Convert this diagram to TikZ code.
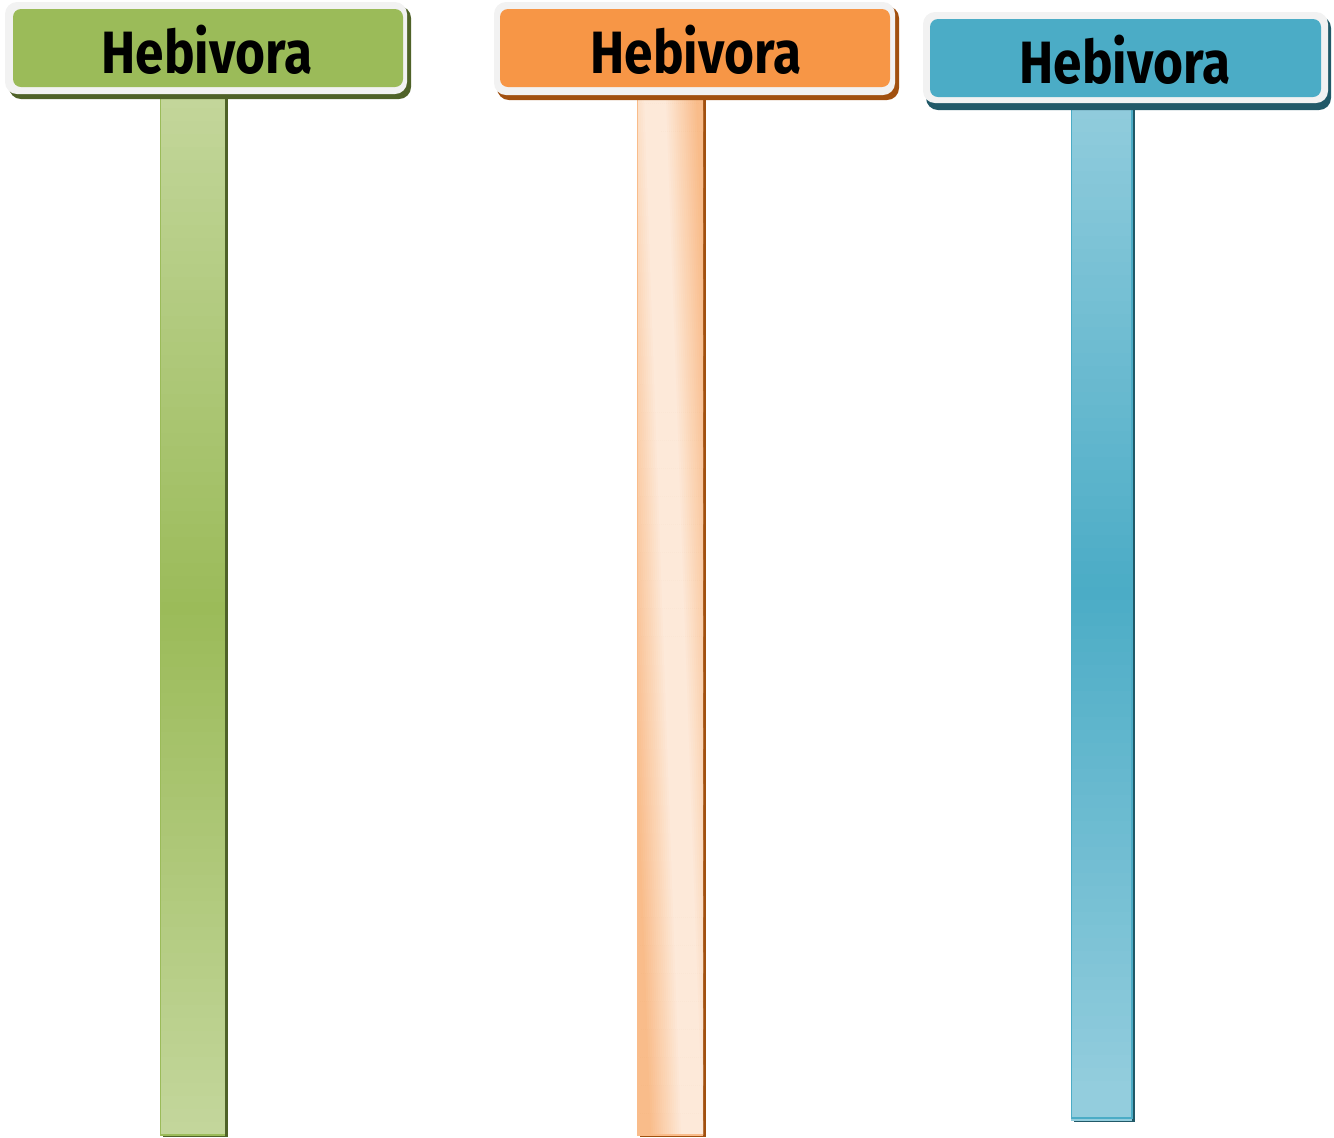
\documentclass[tikz,border=0pt]{standalone}
\usepackage{fontspec}
\setmainfont{Fira Sans}
\definecolor{grnmain}{HTML}{9BBB59}
\definecolor{grnlight}{HTML}{C3D69B}
\definecolor{grndark}{HTML}{4F6228}
\definecolor{orgmain}{HTML}{F79646}
\definecolor{orgmid}{HTML}{F9BC8A}
\definecolor{orglight}{HTML}{FDE9D9}
\definecolor{orgdark}{HTML}{A1500F}
\definecolor{blumain}{HTML}{4BACC6}
\definecolor{blulight}{HTML}{93CDDD}
\definecolor{bludark}{HTML}{215968}
\definecolor{framegray}{HTML}{F2F2F2}
\begin{document}
\begin{tikzpicture}[x=0.02cm,y=-0.02cm,
	signshadow/.style={rounded corners=0.24cm},
	signframe/.style={fill=framegray,rounded corners=0.24cm},
	signface/.style={rounded corners=0.16cm},
	signtext/.style={font=\fontsize{34}{36}\selectfont\bfseries,text=black,inner sep=0pt,anchor=base}]
	\useasboundingbox (0,0) rectangle (1334,1137);
	% green post
	\fill[grndark] (163,95) rectangle (228,1137);
	\foreach \i in {0,...,79}{
		\pgfmathsetmacro{\ya}{95+\i*13}
		\pgfmathsetmacro{\pct}{min(100,abs(\ya+6.5-610)/515*100)}
		\fill[grnlight!\pct!grnmain] (160,\ya) rectangle (225,\ya+13.5);
	}
	\draw[grnmain,line width=0.8pt] (160.5,95) -- (160.5,1135) -- (225,1135);
	% orange post
	\fill[orgdark] (640,97) rectangle (705.5,1137);
	\begin{scope}
		\clip (637,97) rectangle (703,1135);
		\foreach \i in {0,...,55}{
			\pgfmathsetmacro{\xa}{596+\i*2}
			\pgfmathsetmacro{\pct}{min(100,max(0,abs(\xa+1-655)-10)/32*100)}
			\fill[orgmid!\pct!orglight] (\xa,97) -- (\xa+2.5,97) -- (\xa+39.5,1135) -- (\xa+37,1135) -- cycle;
		}
	\end{scope}
	\draw[orgmid,line width=0.8pt] (637.5,97) -- (637.5,1135) -- (703,1135);
	% blue post
	\fill[bludark] (1074,106) rectangle (1135,1122);
	\foreach \i in {0,...,77}{
		\pgfmathsetmacro{\ya}{106+\i*13}
		\pgfmathsetmacro{\pct}{min(100,abs(\ya+6.5-590)/500*100)}
		\fill[blulight!\pct!blumain] (1071,\ya) rectangle (1132,\ya+13.5);
	}
	\draw[blumain,line width=1pt] (1071.5,106) -- (1071.5,1118) -- (1132,1118) -- (1132,106);
	% green sign
	\fill[grndark,signshadow] (9,6) rectangle (411,99);
	\fill[signframe] (5,2) rectangle (407,94);
	\fill[grnmain,signface] (13,9) rectangle (403,87);
	\node[signtext] (grntitle) at (207,73) {\scalebox{0.86}[1]{Hebivora}};
	% orange sign
	\fill[orgdark,signshadow] (497,6) rectangle (899,100);
	\fill[signframe] (494,2) rectangle (895,95);
	\fill[orgmain,signface] (500,9) rectangle (890,87);
	\node[signtext] (orgtitle) at (696,73) {\scalebox{0.86}[1]{Hebivora}};
	% blue sign
	\fill[bludark,signshadow] (926,16) rectangle (1331,110);
	\fill[signframe] (923,12) rectangle (1328,103);
	\fill[blumain,signface] (930,19) rectangle (1321,97);
	\node[signtext] (blutitle) at (1125,83) {\scalebox{0.86}[1]{Hebivora}};
\end{tikzpicture}
\end{document}
